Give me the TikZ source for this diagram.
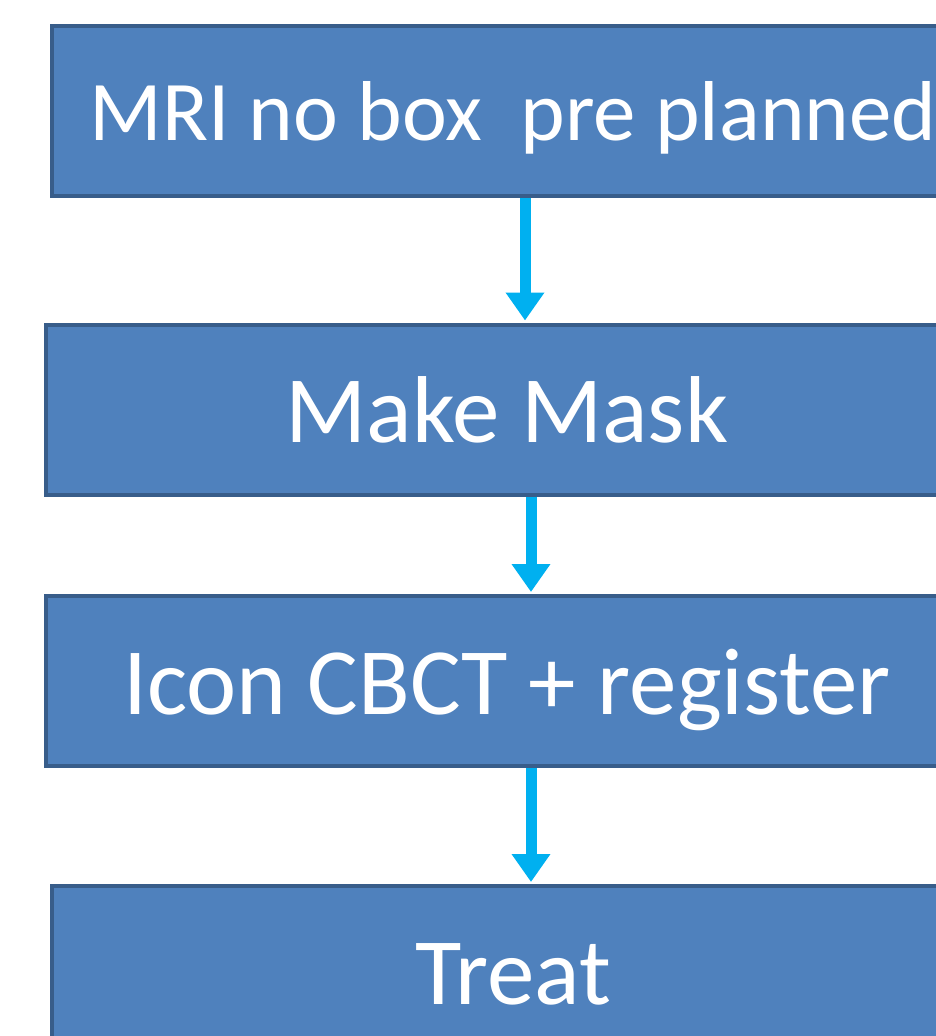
\documentclass[tikz,border=0pt]{standalone}
\usepackage{fontspec}
\setmainfont{Carlito}
\usetikzlibrary{arrows.meta,calc}
\definecolor{boxfill}{HTML}{4F81BD}
\definecolor{boxline}{HTML}{385D8A}
\definecolor{arrowcol}{HTML}{00B0F0}
\tikzset{
  stepbox/.style={draw=boxline, fill=boxfill, line width=4pt, minimum width=922pt, minimum height=170pt, inner sep=0pt, text=white, font=\fontsize{95}{95}\selectfont, text height=66pt, text depth=0pt},
  flowarrow/.style={draw=arrowcol, line width=11pt, -{Triangle[width=37pt,length=28pt]}}
}
\begin{document}
\begin{tikzpicture}[x=1pt,y=-1pt]
\useasboundingbox (0,0) rectangle (936,1036);
\clip (0,0) rectangle (936,1036);
\fill[white] (0,0) rectangle (936,1036);
\node[stepbox, font=\fontsize{85}{85}\selectfont, text height=58pt] (b1) at (513,111) {MRI no box\ \ pre planned};
\node[stepbox] (b2) at (507,409.5) {Make Mask};
\node[stepbox] (b3) at (507,681) {Icon CBCT + register};
\node[stepbox] (b4) at (513,971) {Treat};
\coordinate (a1) at (525,0);
\coordinate (a2) at (531,0);
\draw[flowarrow] (b1.south -| a1) -- ($(b2.north -| a1)+(0,-2)$);
\draw[flowarrow] (b2.south -| a2) -- ($(b3.north -| a2)+(0,-2)$);
\draw[flowarrow] (b3.south -| a2) -- ($(b4.north -| a2)+(0,-2)$);
\end{tikzpicture}
\end{document}
